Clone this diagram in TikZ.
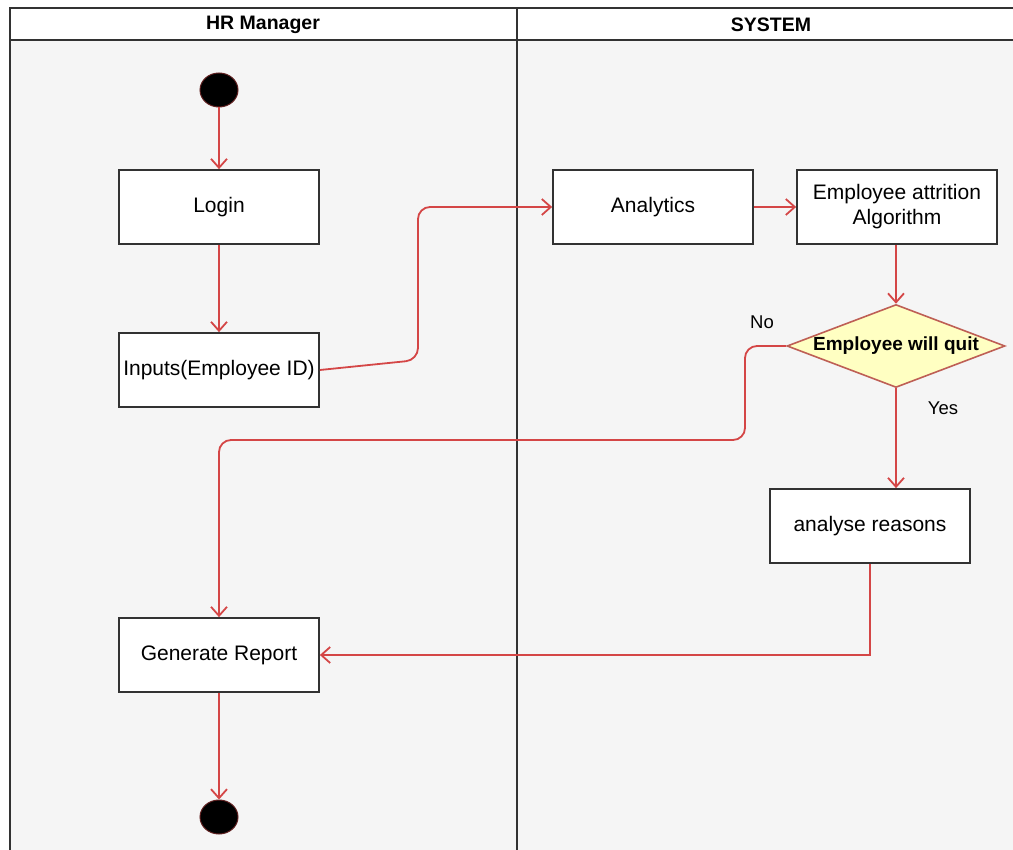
\documentclass[tikz,border=0pt]{standalone}
\usepackage{fontspec}
\setmainfont{Liberation Sans}
\usetikzlibrary{shapes.geometric,arrows.meta}
\definecolor{flow}{RGB}{212,70,70}
\definecolor{lane}{RGB}{245,245,245}
\definecolor{edge}{RGB}{50,50,50}
\definecolor{decfill}{RGB}{255,255,194}
\definecolor{decline}{RGB}{190,95,85}
\begin{document}
\begin{tikzpicture}[x=1pt,y=-1pt,
  act/.style={draw=edge,line width=1.7pt,fill=white,minimum width=200pt,
    minimum height=74pt,inner sep=0pt,font=\fontsize{21}{25}\selectfont,align=center},
  flowline/.style={draw=flow,line width=1.8pt,-{Straight Barb[length=9pt,width=16pt]}},
  dot/.style={ellipse,fill=black,draw=flow!45!black,line width=1pt,
    minimum width=38pt,minimum height=34pt,inner sep=0pt},
  lanehead/.style={font=\bfseries\fontsize{19.5}{22}\selectfont},
  guard/.style={font=\fontsize{18.5}{22}\selectfont},
  laneline/.style={draw=edge,line width=1.6pt}]
\useasboundingbox (0,0) rectangle (1013,850);
% swimlane frame
\fill[white] (0,0) rectangle (1013,850);
\fill[lane] (10,40) rectangle (1013,850);
\draw[laneline] (10,850) -- (10,8) -- (1013,8);
\draw[laneline] (10,40) -- (1013,40);
\draw[draw=edge,line width=2.4pt] (517,8) -- (517,850);
\node[lanehead] (hrhead) at (263,25) {HR Manager};
\node[lanehead] (syshead) at (771,25) {SYSTEM};

% activities
\node[dot] (start) at (219,90) {};
\node[act] (login) at (219,207) {Login};
\node[act] (inp) at (219,370) {Inputs(Employee ID)};
\node[act] (ana) at (653,207) {Analytics};
\node[act] (alg) at (897,207) {Employee attrition\\Algorithm};
\node[diamond,draw=decline,line width=1.6pt,fill=decfill,minimum width=218pt,
  minimum height=83pt,inner sep=0pt] (dec) at (896,346) {};
\node[font=\bfseries\fontsize{19}{22}\selectfont] (declbl) at (dec.center) {Employee will quit};
\node[act] (rea) at (870,526) {analyse reasons};
\node[act] (gen) at (219,655) {Generate Report};
\node[dot] (stop) at (219,817) {};

% guards
\node[guard] (no) at (762,322) {No};
\node[guard] (yes) at (943,408) {Yes};

% control flow
\draw[flowline] (start) -- (login);
\draw[flowline] (login) -- (inp);
\draw[flowline,rounded corners=12pt] (inp.east) -- (418,360) -- (418,207) -- (ana.west);
\draw[flowline] (ana) -- (alg);
\draw[flowline] (alg.south -| dec.north) -- (dec.north);
\draw[flowline,rounded corners=12pt] (dec.west) -- (745,346) -- (745,440) -- (219,440) -- (gen.north);
\draw[flowline] (dec.south) -- (dec.south |- rea.north);
\draw[flowline] (rea.south) -- (870,655) -- (gen.east);
\draw[flowline] (gen) -- (stop);
\end{tikzpicture}
\end{document}
